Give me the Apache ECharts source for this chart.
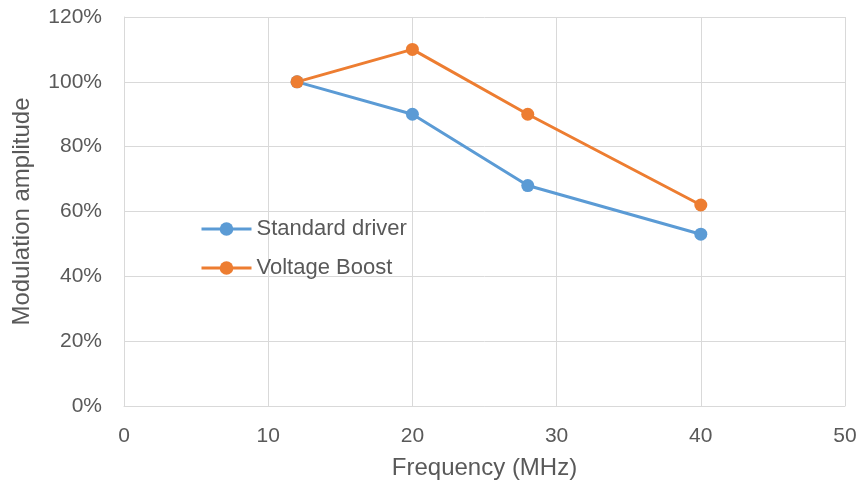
<!DOCTYPE html>
<html>
<head>
<meta charset="utf-8">
<script src="https://cdn.jsdelivr.net/npm/echarts@6/dist/echarts.min.js"></script>
<style>
  html, body { margin: 0; padding: 0; background: #fff; }
  #chart { width: 860px; height: 489px; }
</style>
</head>
<body>
<div id="chart"></div>
<script>
// Data
const frequencies = [12, 20, 28, 40];
const standardDriver = [100, 90, 68, 53];
const voltageBoost = [100, 110, 90, 62];
const seriesNames = ["Standard driver", "Voltage Boost"];
const colors = ["#5B9BD5", "#ED7D31"];

const textColor = "#595959";
const gridColor = "#d9d9d9";
const font = "Liberation Sans, Arial, Helvetica, sans-serif";

const pairs = (xs, ys) => xs.map((x, i) => [x, ys[i]]);

const chart = echarts.init(document.getElementById("chart"));

const option = {
    animation: false,
    textStyle: { fontFamily: font },
    grid: { left: 124, right: 15, top: 17, bottom: 83 },
    legend: {
        orient: "vertical",
        left: 195,
        top: 213,
        itemWidth: 50,
        itemHeight: 17,
        itemGap: 17,
        lineStyle: { width: 3 },
        textStyle: { fontSize: 22, lineHeight: 22, color: textColor, fontFamily: font },
        data: seriesNames,
    },
    xAxis: {
        type: "value",
        min: 0,
        max: 50,
        interval: 10,
        name: "Frequency (MHz)",
        nameLocation: "middle",
        nameGap: 50,
        nameTextStyle: { fontSize: 24, color: textColor },
        axisLine: { show: true, lineStyle: { color: gridColor } },
        axisTick: { show: false },
        axisLabel: { fontSize: 21, color: textColor, margin: 20 },
        splitLine: { show: true, lineStyle: { color: gridColor } },
    },
    yAxis: {
        type: "value",
        min: 0,
        max: 120,
        interval: 20,
        name: "Modulation amplitude",
        nameLocation: "middle",
        nameGap: 90,
        nameTextStyle: { fontSize: 24, color: textColor },
        axisLine: { show: true, lineStyle: { color: gridColor } },
        axisTick: { show: false },
        axisLabel: { fontSize: 21, color: textColor, margin: 22, formatter: "{value}%" },
        splitLine: { show: true, lineStyle: { color: gridColor } },
    },
    series: [
        {
            name: seriesNames[0],
            type: "line",
            data: pairs(frequencies, standardDriver),
            symbol: "circle",
            symbolSize: 13,
            lineStyle: { width: 3, color: colors[0] },
            itemStyle: { color: colors[0] },
        },
        {
            name: seriesNames[1],
            type: "line",
            data: pairs(frequencies, voltageBoost),
            symbol: "circle",
            symbolSize: 13,
            lineStyle: { width: 3, color: colors[1] },
            itemStyle: { color: colors[1] },
        },
    ],
};

chart.setOption(option);
</script>
</body>
</html>
